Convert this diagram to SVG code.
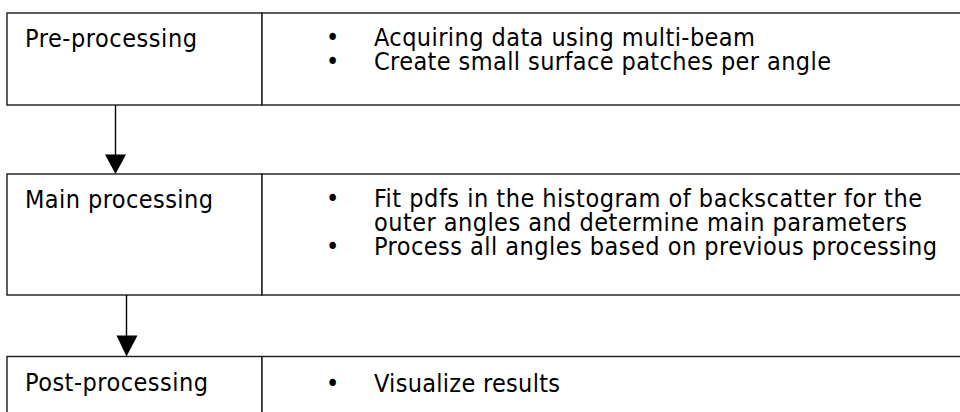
<svg xmlns="http://www.w3.org/2000/svg" width="960" height="412" viewBox="0 0 960 412">
<defs>
<style>
.box{fill:#fff;stroke:#1a1a1a;stroke-width:1.4}
.t{font-family:"DejaVu Sans Condensed","DejaVu Sans",Tahoma,sans-serif;font-size:25px;fill:#000}
.conn line{stroke:#000;stroke-width:1.4}
.conn polygon{fill:#000}
</style>
</defs>
<rect width="960" height="412" fill="#fff"/>
<g id="pre">
<rect class="box" x="7" y="13" width="255" height="92"/>
<rect class="box" x="262" y="13" width="710" height="92"/>
<text class="t" x="25" y="46.5" textLength="172" lengthAdjust="spacing">Pre-processing</text>
<text class="t" x="326" y="46">•</text>
<text class="t" x="374" y="46" textLength="381" lengthAdjust="spacing">Acquiring data using multi-beam</text>
<text class="t" x="326" y="70">•</text>
<text class="t" x="374" y="70" textLength="457" lengthAdjust="spacing">Create small surface patches per angle</text>
</g>
<g id="main">
<rect class="box" x="7" y="174" width="255" height="121"/>
<rect class="box" x="262" y="174" width="710" height="121"/>
<text class="t" x="25" y="208" textLength="188" lengthAdjust="spacing">Main processing</text>
<text class="t" x="326" y="206.5">•</text>
<text class="t" x="374" y="206.5" textLength="548" lengthAdjust="spacing">Fit pdfs in the histogram of backscatter for the</text>
<text class="t" x="374" y="230.5" textLength="533" lengthAdjust="spacing">outer angles and determine main parameters</text>
<text class="t" x="326" y="254.5">•</text>
<text class="t" x="374" y="254.5" textLength="563" lengthAdjust="spacing">Process all angles based on previous processing</text>
</g>
<g id="post">
<rect class="box" x="7" y="356.5" width="255" height="80"/>
<rect class="box" x="262" y="356.5" width="710" height="80"/>
<text class="t" x="25" y="391" textLength="183" lengthAdjust="spacing">Post-processing</text>
<text class="t" x="326" y="391.5">•</text>
<text class="t" x="374" y="391.5" textLength="186" lengthAdjust="spacing">Visualize results</text>
</g>
<g id="connectors" class="conn">
<line x1="115.5" y1="105" x2="115.5" y2="156"/>
<polygon points="105,154.5 126,154.5 115.5,174"/>
<line x1="126.5" y1="295" x2="126.5" y2="337"/>
<polygon points="116.5,335.5 137.5,335.5 126.5,356.5"/>
</g>
</svg>
